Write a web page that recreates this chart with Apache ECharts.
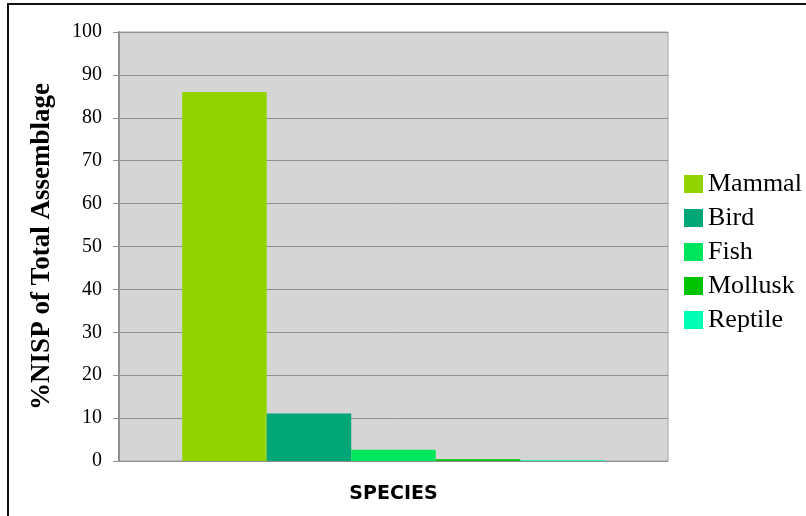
<!DOCTYPE html>
<html>
<head>
<meta charset="utf-8">
<script src="https://cdn.jsdelivr.net/npm/echarts@6/dist/echarts.min.js"></script>
<style>
    html, body { margin: 0; padding: 0; background: #fff; overflow: hidden; }
    #frame { position: absolute; left: 7px; top: 3px; width: 820px; height: 530px; border-top: 2px solid #111; border-left: 2px solid #111; }
    #chart { position: absolute; left: 0; top: 0; width: 806px; height: 516px; }
</style>
</head>
<body>
<div id="frame"></div>
<div id="chart"></div>
<script>
// data
let categories = [''];
let seriesNames = ['Mammal', 'Bird', 'Fish', 'Mollusk', 'Reptile'];
let seriesValues = [86, 11.1, 2.6, 0.4, 0.15];
let yTicks = { min: 0, max: 100, interval: 10 };
let colors = ['#92d400', '#00a676', '#00e65c', '#00c400', '#00ffb4'];

(function(){
    let serif = '"Liberation Serif", "DejaVu Serif", serif';

    let series = seriesNames.map((name, i) => {
        return {
            name: name,
            type: 'bar',
            barGap: '0%',
            barCategoryGap: '23%',
            data: [seriesValues[i]]
        };
    });

    let opts = {
        animation: false,
        color: colors,
        grid: {
            left: 119,
            top: 32,
            right: 138,
            bottom: 55,
            show: true,
            backgroundColor: '#d5d5d5',
            borderColor: '#a3a3a3',
            borderWidth: 1
        },
        legend: {
            orient: 'vertical',
            left: 679,
            top: 166,
            icon: 'rect',
            itemWidth: 19,
            itemHeight: 18,
            itemGap: 8,
            textStyle: {
                fontFamily: serif,
                fontSize: 26,
                color: '#000'
            },
            data: seriesNames
        },
        xAxis: {
            type: 'category',
            data: categories,
            name: 'SPECIES',
            nameLocation: 'middle',
            nameGap: 24,
            nameTextStyle: {
                fontFamily: '"DejaVu Sans", Verdana, sans-serif',
                fontWeight: 'bold',
                fontSize: 19,
                color: '#000'
            },
            axisLine: { lineStyle: { color: '#8f8f8f', width: 1 } },
            axisTick: { show: false },
            axisLabel: { show: false }
        },
        yAxis: {
            type: 'value',
            min: yTicks.min,
            max: yTicks.max,
            interval: yTicks.interval,
            name: '%NISP of Total Assemblage',
            nameLocation: 'middle',
            nameGap: 63,
            nameTextStyle: {
                fontFamily: serif,
                fontWeight: 'bold',
                fontSize: 27,
                color: '#000'
            },
            axisLine: { show: true, lineStyle: { color: '#8f8f8f', width: 2 } },
            axisTick: { show: true, length: 6, lineStyle: { color: '#8f8f8f' } },
            axisLabel: {
                fontFamily: serif,
                fontSize: 20,
                color: '#000',
                margin: 17
            },
            splitLine: { lineStyle: { color: '#8f8f8f', width: 1 } }
        },
        series: series
    };

    let chart = echarts.init(document.getElementById('chart'));
    chart.setOption(opts);
})();
</script>
</body>
</html>
